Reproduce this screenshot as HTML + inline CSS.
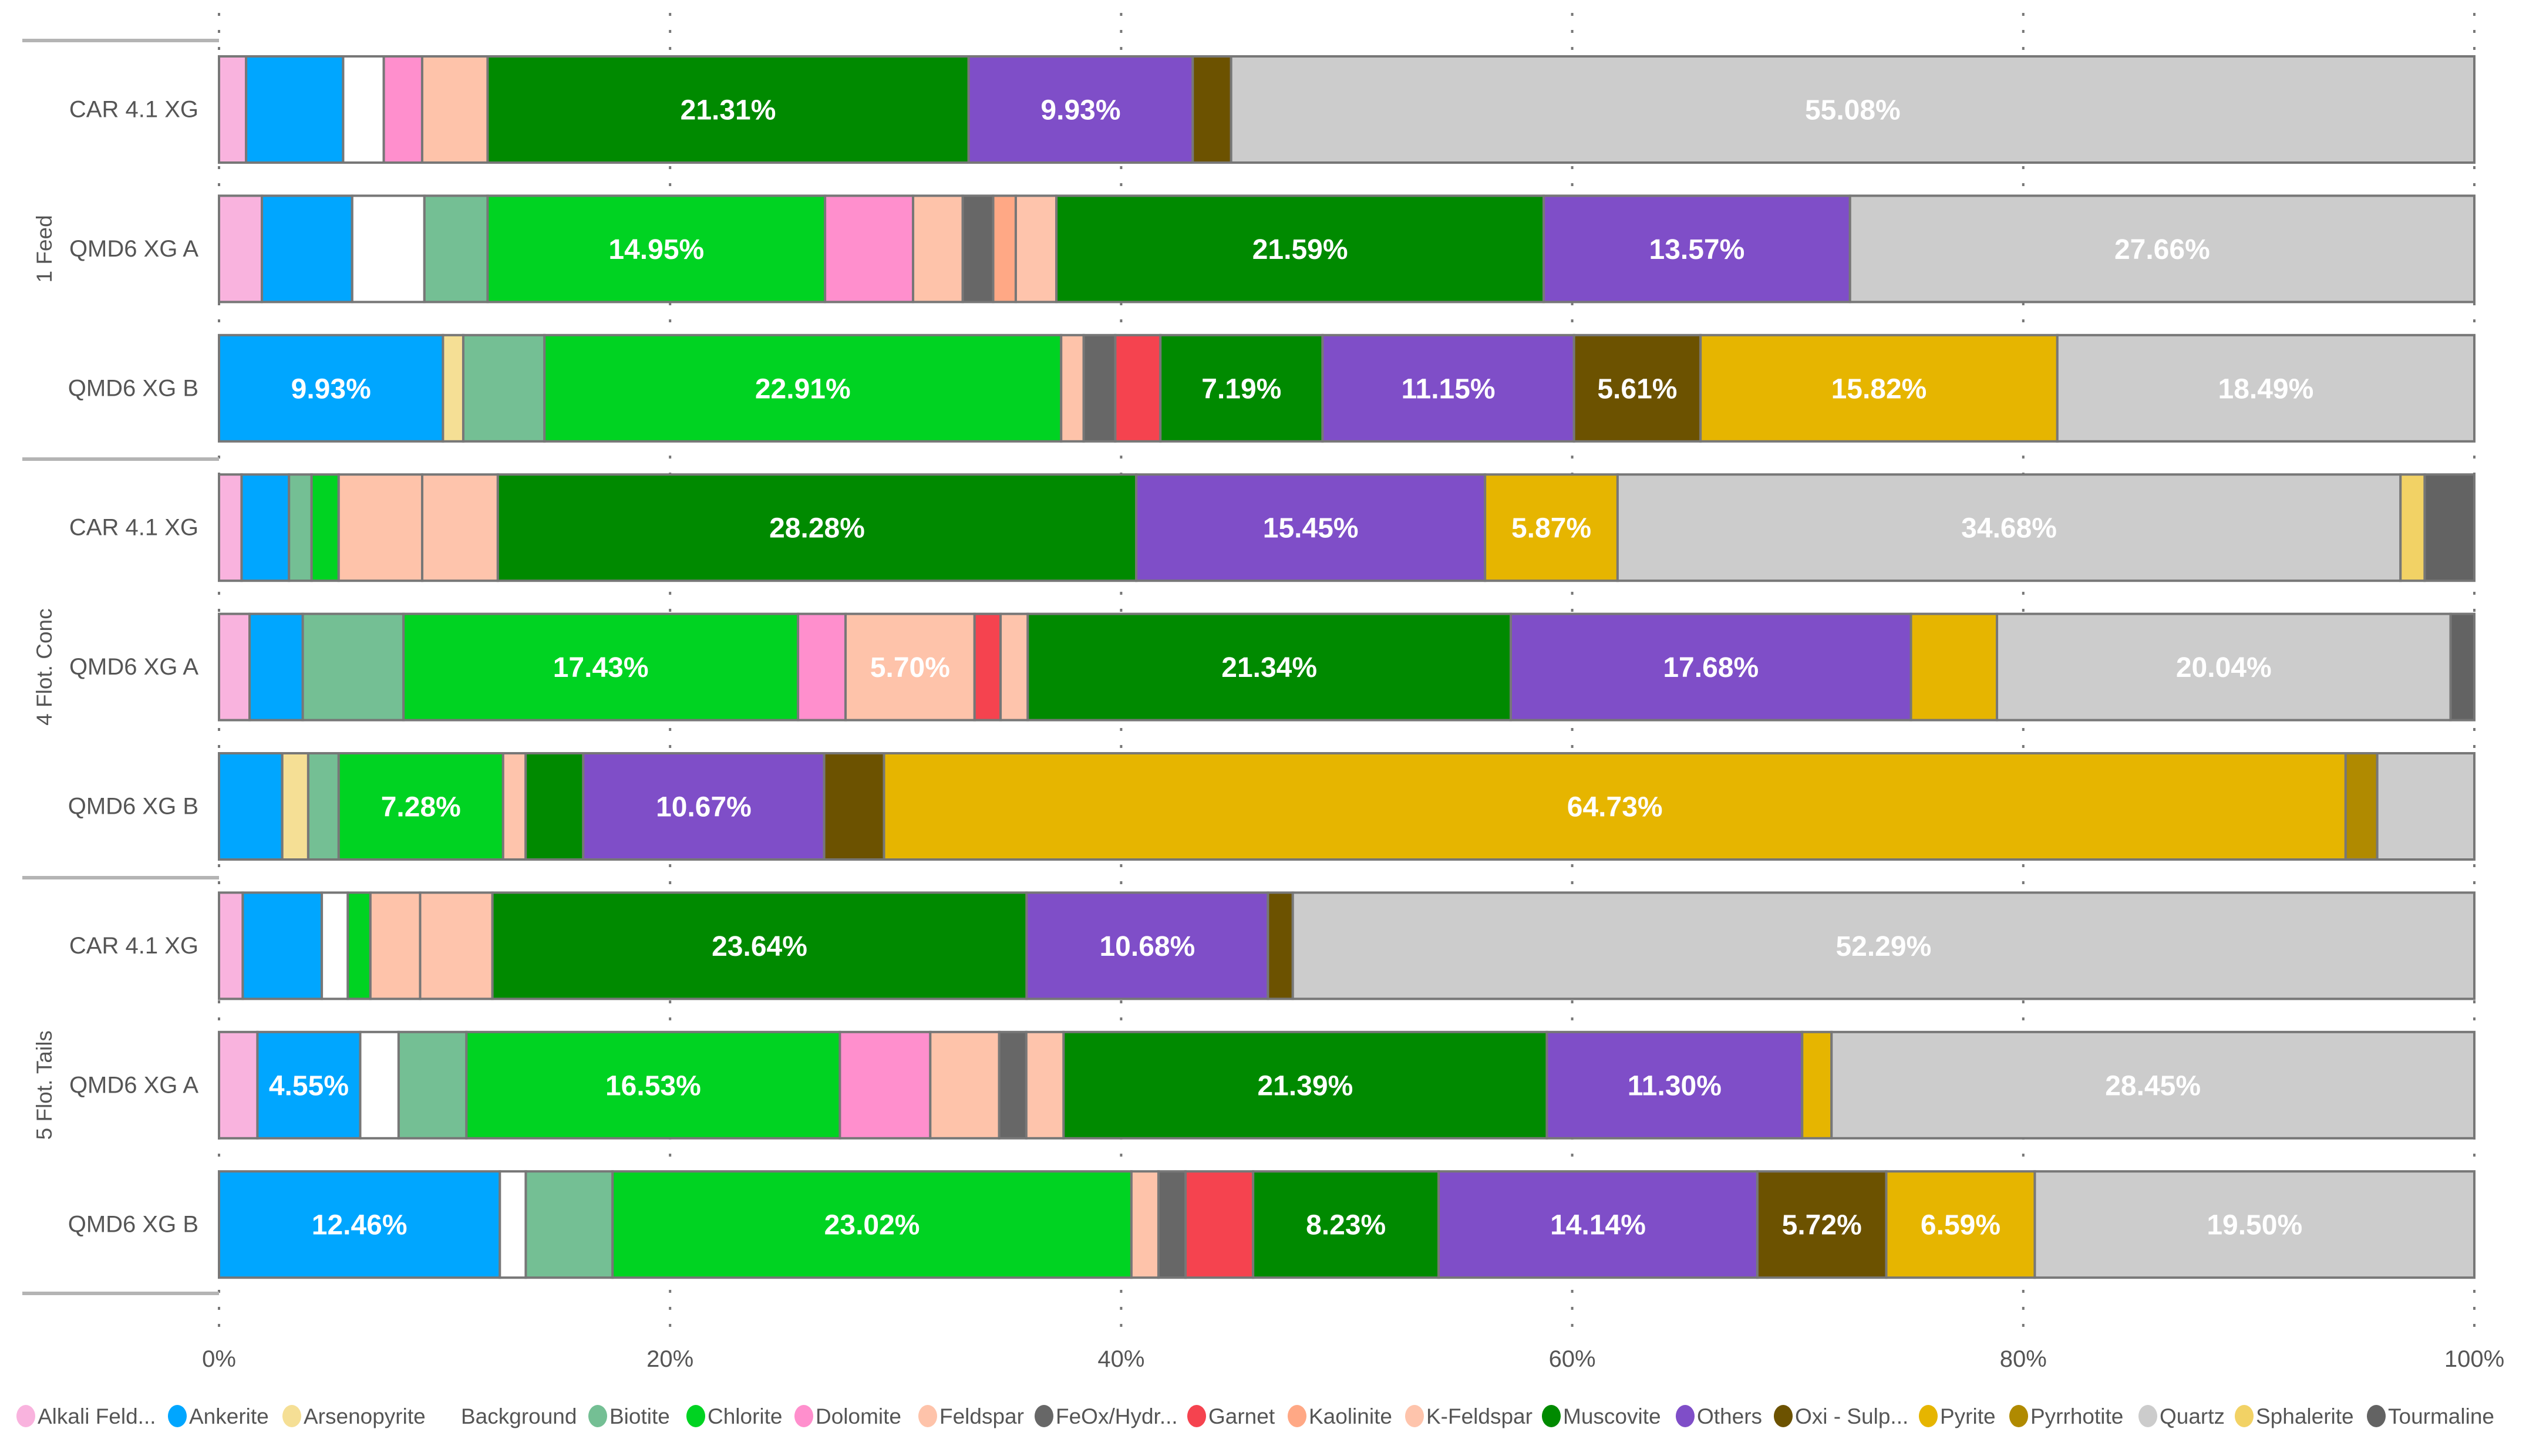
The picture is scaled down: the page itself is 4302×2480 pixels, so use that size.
<!DOCTYPE html>
<html><head><meta charset="utf-8">
<style>
html,body{margin:0;padding:0;background:#fff;}
body{width:4302px;height:2480px;overflow:hidden;position:relative;font-family:"Liberation Sans",sans-serif;}
svg{position:absolute;left:0;top:0;}
</style></head>
<body>
<svg id="chart" width="4302" height="2480" viewBox="0 0 4302 2480" xmlns="http://www.w3.org/2000/svg"></svg>
<script>
const minerals = ["Alkali Feld...","Ankerite","Arsenopyrite","Background","Biotite","Chlorite","Dolomite","Feldspar","FeOx/Hydr...","Garnet","Kaolinite","K-Feldspar","Muscovite","Others","Oxi - Sulp...","Pyrite","Pyrrhotite","Quartz","Sphalerite","Tourmaline"];
const colors = ["#F9B3DE","#00A6FF","#F5DF95","#FFFFFF","#74BF94","#00D322","#FF8FCD","#FEC3AA","#676767","#F5434F","#FFA885","#FEC4AC","#008A00","#7F4EC8","#6C5200","#E6B500","#B08A00","#CCCCCC","#F2D265","#636363"];
const groups = ["1 Feed","4 Flot. Conc","5 Flot. Tails"];
const samples = ["CAR 4.1 XG","QMD6 XG A","QMD6 XG B","CAR 4.1 XG","QMD6 XG A","QMD6 XG B","CAR 4.1 XG","QMD6 XG A","QMD6 XG B"];
// values per mineral in order of minerals[], per row
const row1 = [1.2,4.3,0,1.8,0,0,1.7,2.9,0,0,0,0,21.31,9.93,1.7,0,0,55.08,0,0];
const row2 = [1.9,4.0,0,3.2,2.8,14.95,3.9,2.2,1.35,0,1.0,1.8,21.59,13.57,0,0,0,27.66,0,0];
const row3 = [0,9.93,0.9,0,3.6,22.91,0,1.0,1.4,2.0,0,0,7.19,11.15,5.61,15.82,0,18.49,0,0];
const row4 = [1.0,2.1,0,0,1.0,1.2,0,3.7,0,0,0,3.35,28.28,15.45,0,5.87,0,34.68,1.07,2.2];
const row5 = [1.35,2.35,0,0,4.45,17.43,2.1,5.70,0,1.15,0,1.2,21.34,17.68,0,3.8,0,20.04,0,1.05];
const row6 = [0,2.8,1.15,0,1.35,7.28,0,0,0,0,0,1.0,2.55,10.67,2.65,64.73,1.4,4.3,0,0];
const row7 = [1.05,3.5,0,1.15,0,1.0,0,2.2,0,0,0,3.2,23.64,10.68,1.1,0,0,52.29,0,0];
const row8 = [1.7,4.55,0,1.7,3.0,16.53,4.0,3.05,1.2,0,0,1.65,21.39,11.30,0,1.3,0,28.45,0,0];
const row9 = [0,12.46,0,1.15,3.85,23.02,0,1.2,1.2,3.0,0,0,8.23,14.14,5.72,6.59,0,19.50,0,0];
const rows = [row1,row2,row3,row4,row5,row6,row7,row8,row9];
const xTicks = [0,20,40,60,80,100];
const xTickLabels = ["0%","20%","40%","60%","80%","100%"];

const svg = document.getElementById('chart');
const NS = "http://www.w3.org/2000/svg";
const X0 = 373, X1 = 4214;
const xScale = v => X0 + (X1 - X0) * v / 100;
const rowTop = i => 96 + i * 237.4;
const BAR_H = 181;
function mk(tag, attrs){const e=document.createElementNS(NS,tag);for(const k in attrs)e.setAttribute(k,attrs[k]);svg.appendChild(e);return e;}

xTicks.forEach((t,i)=>{
  const g = mk('line',{x1:xScale(t),x2:xScale(t),y1:22,y2:2260,stroke:'#777','stroke-width':4,'stroke-dasharray':'5 24'});
  
  
  const tl = mk('text',{x:xScale(t),y:2328,'text-anchor':'middle','font-size':40,fill:'#555'});
  tl.textContent = xTickLabels[i];
  
  
});

[69,782,1495,2203].forEach((y,i)=>{
  const l = mk('line',{x1:38,x2:373,y1:y,y2:y,stroke:'#b4b4b4','stroke-width':6});
  
  
});
groups.forEach((g,i)=>{
  const cy = rowTop(i*3+1) + BAR_H/2;
  const t = mk('text',{x:0,y:0,'text-anchor':'middle','font-size':37,fill:'#555',transform:`translate(88,${cy}) rotate(-90)`});
  t.textContent = g;
  
  
});

rows.forEach((r,i)=>{
  const y = rowTop(i);
  const lab = mk('text',{x:338,y:y+BAR_H/2+13,'text-anchor':'end','font-size':40,fill:'#555'});
  lab.textContent = samples[i];
  
  
  const total = r.reduce((a,b)=>a+b,0);
  let acc = 0;
  r.forEach((v,j)=>{
    if(v<=0) return;
    const xa = xScale(acc*100/total), xb = xScale((acc+v)*100/total);
    const rc = mk('rect',{x:xa,y:y,width:xb-xa,height:BAR_H,fill:colors[j],stroke:'#777','stroke-width':4});
    
    
    if(v>=4.5){
      const t = mk('text',{x:(xa+xb)/2,y:y+BAR_H/2+17,'text-anchor':'middle','font-size':48,'font-weight':'bold',fill:'#fff'});
      t.textContent = v.toFixed(2)+'%';
      
      
    }
    acc += v;
  });
});

const legendX = [44,302,497,787,1018,1185,1369,1580,1778,2038,2209,2409,2642,2870,3037,3284,3438,3658,3822,4047];
minerals.forEach((m,j)=>{
  const x = legendX[j];
  if(j!==3){
    const c = mk('ellipse',{cx:x,cy:2412,rx:16,ry:19,fill:colors[j]});
    
    
  }
  const t = mk('text',{x:x+(j===3?-2:20),y:2425,'font-size':37,fill:'#555'});
  t.textContent = m;
  
  
});
</script>
</body></html>
